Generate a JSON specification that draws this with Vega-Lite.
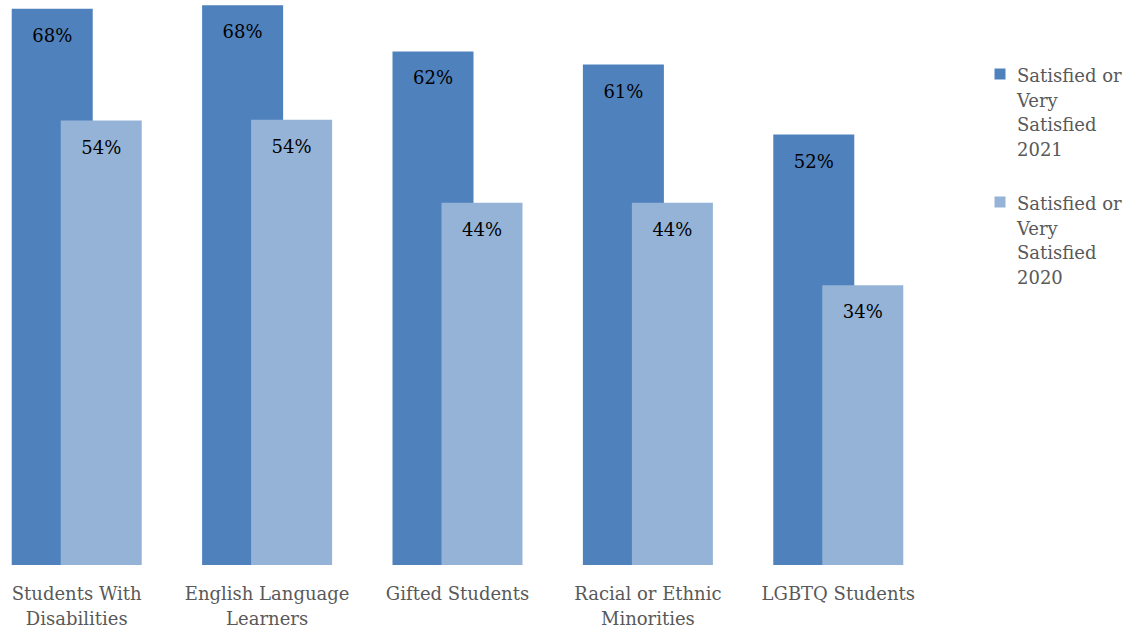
{
  "$schema": "https://vega.github.io/schema/vega-lite/v6.json",
  "width": 915,
  "height": 565,
  "autosize": {"type": "none"},
  "padding": {"left": 0, "top": 0, "right": 216, "bottom": 65},
  "background": "white",
  "config": {
    "view": {"stroke": null},
    "font": "DejaVu Serif"
  },
  "data": {
    "values": [
      {"group": "Students With Disabilities", "series": "Satisfied or Very Satisfied 2021", "value": 0.676},
      {"group": "Students With Disabilities", "series": "Satisfied or Very Satisfied 2020", "value": 0.54},
      {"group": "English Language Learners", "series": "Satisfied or Very Satisfied 2021", "value": 0.68},
      {"group": "English Language Learners", "series": "Satisfied or Very Satisfied 2020", "value": 0.541},
      {"group": "Gifted Students", "series": "Satisfied or Very Satisfied 2021", "value": 0.624},
      {"group": "Gifted Students", "series": "Satisfied or Very Satisfied 2020", "value": 0.44},
      {"group": "Racial or Ethnic Minorities", "series": "Satisfied or Very Satisfied 2021", "value": 0.608},
      {"group": "Racial or Ethnic Minorities", "series": "Satisfied or Very Satisfied 2020", "value": 0.44},
      {"group": "LGBTQ Students", "series": "Satisfied or Very Satisfied 2021", "value": 0.523},
      {"group": "LGBTQ Students", "series": "Satisfied or Very Satisfied 2020", "value": 0.34}
    ]
  },
  "encoding": {
    "x": {
      "field": "group",
      "type": "nominal",
      "sort": null,
      "scale": {"paddingInner": 0.317, "paddingOuter": 0.0615},
      "axis": {
        "title": null,
        "domain": false,
        "ticks": false,
        "labelAngle": 0,
        "labelFont": "DejaVu Serif",
        "labelFontSize": 18,
        "labelColor": "#595959",
        "labelPadding": 20,
        "labelLineHeight": 25,
        "labelBaseline": "top",
        "labelExpr": "datum.value == 'Students With Disabilities' ? ['Students With', 'Disabilities'] : datum.value == 'English Language Learners' ? ['English Language', 'Learners'] : datum.value == 'Racial or Ethnic Minorities' ? ['Racial or Ethnic', 'Minorities'] : datum.value"
      }
    },
    "y": {
      "field": "value",
      "type": "quantitative",
      "scale": {"domain": [0, 0.6865], "nice": false, "zero": true},
      "axis": null
    }
  },
  "layer": [
    {
      "transform": [{"filter": "datum.series == 'Satisfied or Very Satisfied 2021'"}],
      "mark": {"type": "bar", "width": {"band": 0.623}, "xOffset": -24.5},
      "encoding": {
        "color": {
          "field": "series",
          "type": "nominal",
          "scale": {
            "domain": ["Satisfied or Very Satisfied 2021", "Satisfied or Very Satisfied 2020"],
            "range": ["#4F81BD", "#95B3D7"]
          },
          "legend": {
            "title": null,
            "orient": "none",
            "legendX": 991,
            "legendY": 65,
            "padding": 0,
            "symbolType": "square",
            "symbolSize": 121,
            "symbolStrokeWidth": 0,
            "symbolOffset": 0,
            "labelFont": "DejaVu Serif",
            "labelFontSize": 18,
            "labelColor": "#595959",
            "labelOffset": 8,
            "labelBaseline": "top",
            "labelLimit": 200,
            "rowPadding": 32,
            "labelExpr": "datum.value == 'Satisfied or Very Satisfied 2021' ? ['Satisfied or', 'Very', 'Satisfied', '2021'] : ['Satisfied or', 'Very', 'Satisfied', '2020']",
            "encode": {
              "labels": {
                "update": {
                  "lineHeight": {"value": 24.7},
                  "dy": {"value": -6}
                }
              }
            }
          }
        }
      }
    },
    {
      "transform": [{"filter": "datum.series == 'Satisfied or Very Satisfied 2020'"}],
      "mark": {"type": "bar", "width": {"band": 0.623}, "xOffset": 24.5},
      "encoding": {
        "color": {"field": "series", "type": "nominal"}
      }
    },
    {
      "transform": [{"filter": "datum.series == 'Satisfied or Very Satisfied 2021'"}],
      "mark": {"type": "text", "xOffset": -24.5, "dy": 33, "baseline": "alphabetic", "font": "DejaVu Serif", "fontSize": 18, "color": "#000000"},
      "encoding": {
        "text": {"field": "value", "type": "quantitative", "format": ".0%"}
      }
    },
    {
      "transform": [{"filter": "datum.series == 'Satisfied or Very Satisfied 2020'"}],
      "mark": {"type": "text", "xOffset": 24.5, "dy": 33, "baseline": "alphabetic", "font": "DejaVu Serif", "fontSize": 18, "color": "#000000"},
      "encoding": {
        "text": {"field": "value", "type": "quantitative", "format": ".0%"}
      }
    }
  ]
}
